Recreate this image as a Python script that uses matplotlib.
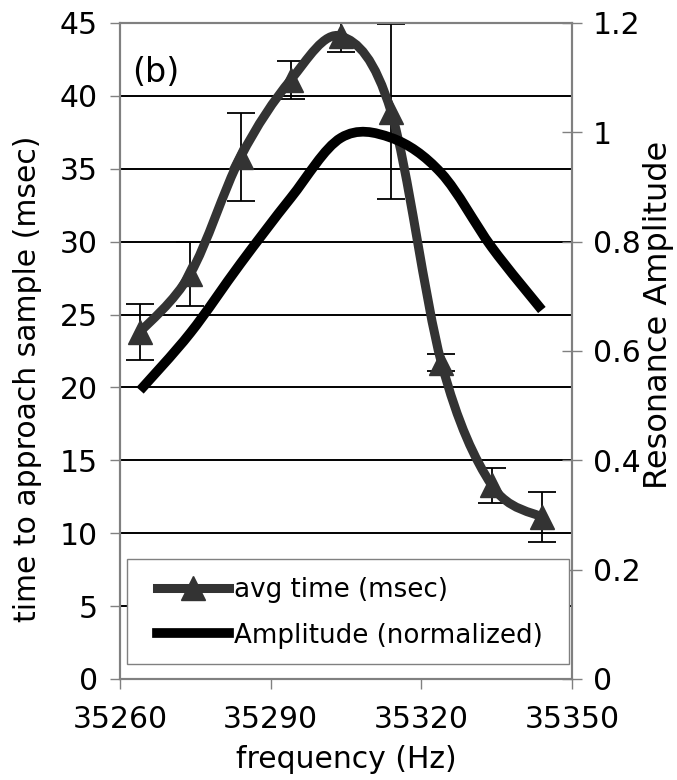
import matplotlib
matplotlib.use("Agg")
import matplotlib.pyplot as plt
from matplotlib.path import Path
from matplotlib.patches import PathPatch, Rectangle
from matplotlib.lines import Line2D
import numpy as np

freq = [35264, 35274, 35284, 35294, 35304, 35314, 35324, 35334, 35344]
avg_time = [23.8, 27.8, 35.8, 41.1, 44.1, 38.9, 21.7, 13.3, 11.1]
avg_err = [1.9, 2.2, 3.0, 1.3, 1.1, 6.0, 0.6, 1.2, 1.7]
amplitude = [0.528, 0.633, 0.76, 0.88, 0.99, 0.99, 0.925, 0.79, 0.675]

left_ticks = [0, 5, 10, 15, 20, 25, 30, 35, 40, 45]
right_ticks = [0, 0.2, 0.4, 0.6, 0.8, 1.0, 1.2]
right_labels = ["0", "0.2", "0.4", "0.6", "0.8", "1", "1.2"]
x_ticks = [35260, 35290, 35320, 35350]

plt.rcParams['font.family'] = ['DejaVu Sans']
FS = 21.5

def smooth_path(xs, ys):
    pts = np.column_stack([xs, ys]).astype(float)
    n = len(pts)
    verts = [pts[0]]
    codes = [Path.MOVETO]
    for i in range(n - 1):
        p0 = pts[i - 1] if i > 0 else pts[i]
        p1 = pts[i]
        p2 = pts[i + 1]
        p3 = pts[i + 2] if i + 2 < n else pts[i + 1]
        c1 = p1 + (p2 - p0) / 6.0
        c2 = p2 - (p3 - p1) / 6.0
        verts += [c1, c2, p2]
        codes += [Path.CURVE4] * 3
    return Path(verts, codes)

fig = plt.figure(figsize=(6.77, 7.80), dpi=100)
ax = fig.add_axes([120 / 677, 1 - 679 / 780, 452 / 677, 656 / 780])
ax2 = ax.twinx()

gray = '#333333'
spine_c = '#808080'

# grid
for v in left_ticks[1:-1]:
    ax.axhline(v, color='black', lw=1.4, zorder=1)

# avg time curve (left axis)
ax.errorbar(freq, avg_time, yerr=avg_err, fmt='none', ecolor='black',
            elinewidth=1.3, capsize=10, capthick=1.3, zorder=2)
ax.add_patch(PathPatch(smooth_path(freq, avg_time), facecolor='none',
                       edgecolor=gray, lw=6.5, capstyle='butt', joinstyle='round', zorder=3))
ax.plot(freq, avg_time, linestyle='none', marker='^', markersize=17,
        color=gray, zorder=4)

# amplitude curve (right axis, drawn on top)
ax2.add_patch(PathPatch(smooth_path(freq, amplitude), facecolor='none',
                        edgecolor='black', lw=7, capstyle='butt', joinstyle='round', zorder=2))
ax2.set_ylim(0, 1.2)
ax2.set_yticks(right_ticks)
ax2.set_yticklabels(right_labels)

ax.set_xlim(35260, 35350)
ax.set_ylim(0, 45)
ax.set_xticks(x_ticks)
ax.set_yticks(left_ticks)

for a in (ax, ax2):
    for s in a.spines.values():
        s.set_color(spine_c)
        s.set_linewidth(1.5)

ax.tick_params(axis='both', labelsize=FS, colors='black', length=7, width=1, pad=9)
ax.tick_params(axis='x', pad=12)
ax.tick_params(axis='y', color=spine_c)
ax.tick_params(axis='x', color=spine_c)
ax2.tick_params(axis='y', labelsize=FS, direction='inout', length=14, width=1,
                color=spine_c, pad=8)

ax.set_xlabel('frequency (Hz)', fontsize=FS, labelpad=8)
ax.set_ylabel('time to approach sample (msec)', fontsize=21.5)
ax.yaxis.set_label_coords(-0.173, 0.457)
ax2.set_ylabel('Resonance Amplitude', fontsize=23)
ax2.yaxis.set_label_coords(1.157, 0.555)

ax2.text(0.027, 0.925, '(b)', transform=ax.transAxes, fontsize=24,
         va='center', ha='left', zorder=5,
         bbox=dict(facecolor='white', edgecolor='none', pad=1))

# legend box
ax2.add_patch(Rectangle((0.0155, 0.0229), 0.9775, 0.16, transform=ax.transAxes,
                        facecolor='white', edgecolor=spine_c, lw=1, zorder=6))
handles = [Line2D([], [], color=gray, lw=6.5, marker='^', markersize=17),
           Line2D([], [], color='black', lw=7)]
leg = ax2.legend(handles, ['avg time (msec)', 'Amplitude (normalized)'],
                 loc='center left', bbox_to_anchor=(0.082, 0.101),
                 fontsize=18.8, frameon=False, handlelength=2.75,
                 handletextpad=0.2, borderpad=0, labelspacing=0.75,
                 borderaxespad=0)
leg.set_zorder(7)

fig.savefig('out.png', dpi=100)
